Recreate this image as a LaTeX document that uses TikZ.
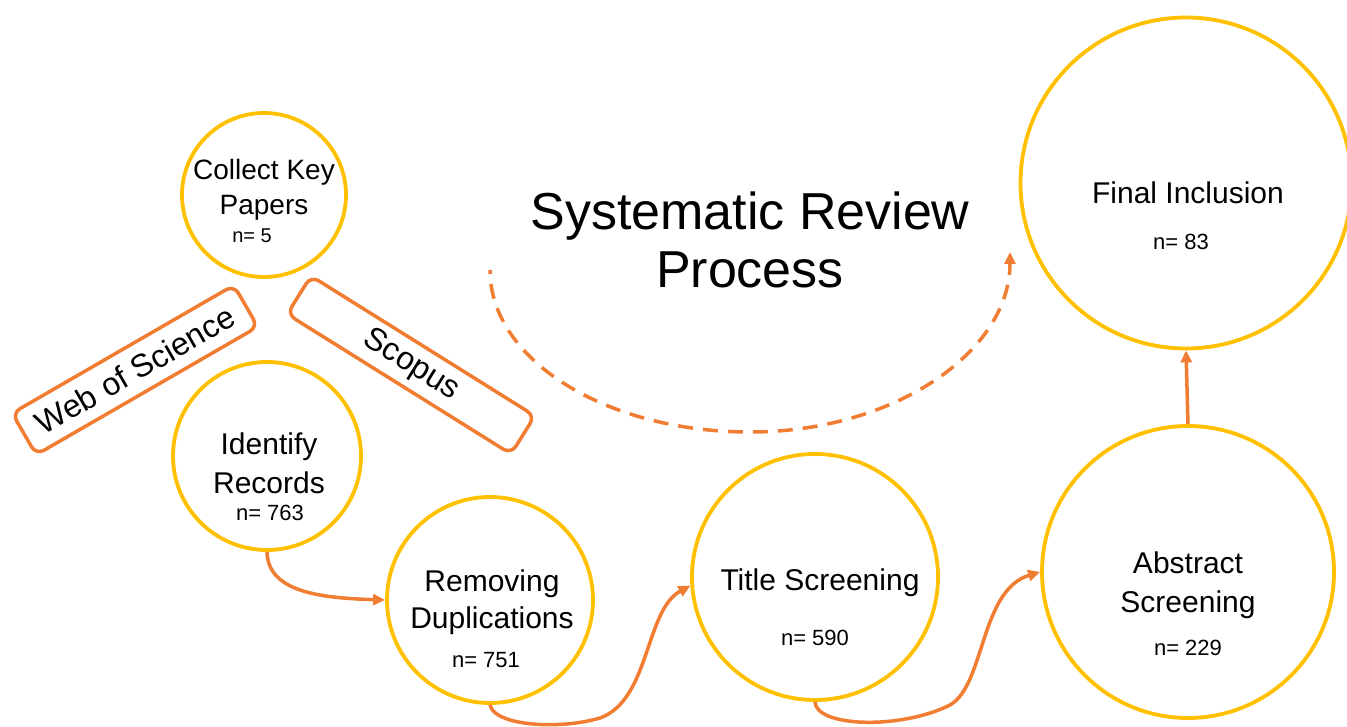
\documentclass[tikz,border=0pt]{standalone}
\usepackage{fontspec}
\setmainfont{Liberation Sans}
\usetikzlibrary{arrows.meta}
\definecolor{ring}{HTML}{FFC000}
\definecolor{flow}{HTML}{F07D32}
\tikzset{
  ringnode/.style={circle, draw=ring, line width=3.8pt, inner sep=0pt, fill=white},
  dbbox/.style={draw=flow, line width=3.5pt, rounded corners=9pt, inner sep=0pt, fill=white, align=center, font=\fontsize{32}{38}\selectfont},
  lbl/.style={align=center, inner sep=0pt, font=\fontsize{30}{38}\selectfont},
  cnt/.style={inner sep=0pt, font=\fontsize{22}{26}\selectfont},
  arr/.style={draw=flow, line width=3.5pt, -{Triangle[length=12pt,width=11pt]}},
}
\begin{document}
\begin{tikzpicture}[x=1pt,y=-1pt]
\useasboundingbox (0,0) rectangle (1347,727);
% circles
\node[ringnode, minimum size=164pt] (collect) at (264,195) {};
\node[ringnode, minimum size=188pt] (ident) at (267,456) {};
\node[ringnode, minimum size=206pt] (remov) at (490,600) {};
\node[ringnode, minimum size=246pt] (title) at (815,577) {};
\node[ringnode, minimum size=292pt] (abs) at (1188,572) {};
\node[ringnode, minimum size=331pt] (final) at (1186,183) {};
% database boxes
\node[dbbox, minimum width=256pt, minimum height=48pt, rotate=30] (wos) at (135,370) {Web of Science};
\node[dbbox, minimum width=264pt, minimum height=45pt, rotate=-32] (scop) at (411,365) {Scopus};
% labels
\node[lbl, font=\fontsize{28}{35}\selectfont] (collectt) at (264,190) {Collect Key\\Papers};
\node[cnt, font=\fontsize{20}{24}\selectfont] (collectn) at (252,236) {n= 5};
\node[lbl, font=\fontsize{30}{39}\selectfont] (identt) at (269,463) {Identify\\Records};
\node[cnt] (identn) at (270,513) {n= 763};
\node[lbl, font=\fontsize{30}{37}\selectfont] (removt) at (492,602) {Removing\\Duplications};
\node[cnt] (removn) at (486,660) {n= 751};
\node[lbl] (titlet) at (820,583) {Title Screening};
\node[cnt] (titlen) at (815,638) {n= 590};
\node[lbl, font=\fontsize{30}{39}\selectfont] (abst) at (1188,585) {Abstract\\Screening};
\node[cnt] (absn) at (1188,648) {n= 229};
\node[lbl] (finalt) at (1188,193) {Final Inclusion};
\node[cnt] (finaln) at (1181,242) {n= 83};
\node[lbl, font=\fontsize{52}{58}\selectfont] (head) at (750,240) {Systematic Review\\Process};
% connectors
\draw[arr] (ident.south) .. controls (268,592) and (320,598) .. (remov.west);
\coordinate (m1) at (600,718);
\draw[arr] (remov.south) .. controls (494,726) and (560,730) .. (m1)
  .. controls (650,700) and (645,610) .. (title.184);
\coordinate (m2) at (950,705);
\draw[arr] (title.south) .. controls (816,727) and (900,730) .. (m2)
  .. controls (985,685) and (980,590) .. (abs.west);
\draw[arr] (abs.north) -- (final.south);
\coordinate (dstart) at (490,270);
\coordinate (dend) at (1010,252);
\draw[arr, dash pattern=on 15pt off 10pt, dash phase=11pt] (dstart) .. controls (490,360) and (606,432) .. (750,432)
  .. controls (894,432) and (1010,352) .. (dend);
\end{tikzpicture}
\end{document}
